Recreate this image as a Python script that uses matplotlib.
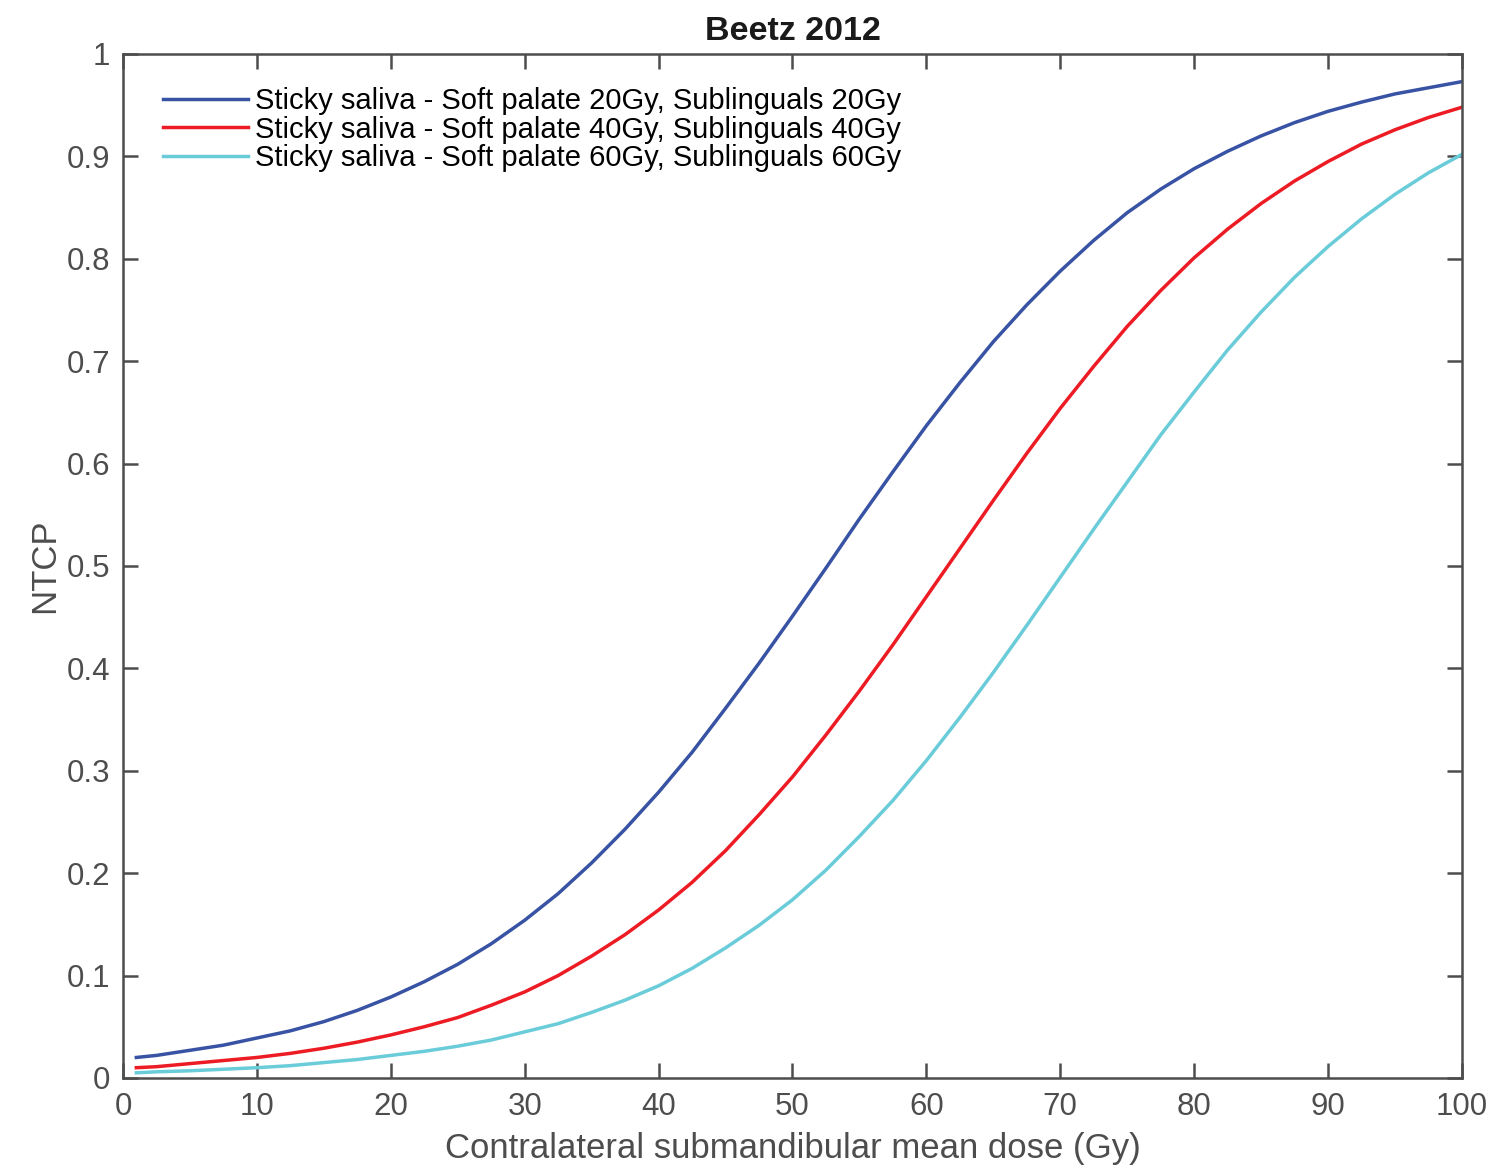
import matplotlib.pyplot as plt

plt.rcParams['font.family'] = ['Liberation Sans', 'DejaVu Sans']

# Data (NTCP vs contralateral submandibular mean dose)
dose = [1, 2.5, 5, 7.5, 10, 12.5, 15, 17.5, 20, 22.5, 25, 27.5, 30, 32.5, 35, 37.5,
        40, 42.5, 45, 47.5, 50, 52.5, 55, 57.5, 60, 62.5, 65, 67.5, 70, 72.5,
        75, 77.5, 80, 82.5, 85, 87.5, 90, 92.5, 95, 97.5, 100]
ntcp_20 = [0.020, 0.022, 0.027, 0.032, 0.039, 0.046, 0.055, 0.066, 0.079, 0.094, 0.111,
           0.131, 0.154, 0.180, 0.210, 0.243, 0.279, 0.318, 0.361, 0.405, 0.451,
           0.498, 0.546, 0.592, 0.637, 0.679, 0.719, 0.755, 0.788, 0.818, 0.845,
           0.868, 0.888, 0.905, 0.920, 0.933, 0.944, 0.953, 0.961, 0.967, 0.973]
ntcp_40 = [0.010, 0.011, 0.014, 0.017, 0.020, 0.024, 0.029, 0.035, 0.042, 0.050, 0.059,
           0.071, 0.084, 0.100, 0.119, 0.140, 0.164, 0.191, 0.222, 0.257, 0.294,
           0.335, 0.378, 0.423, 0.470, 0.517, 0.564, 0.610, 0.654, 0.695, 0.734,
           0.769, 0.801, 0.829, 0.854, 0.876, 0.895, 0.912, 0.926, 0.938, 0.948]
ntcp_60 = [0.005, 0.006, 0.007, 0.0085, 0.010, 0.012, 0.015, 0.018, 0.022, 0.026, 0.031,
           0.037, 0.045, 0.053, 0.064, 0.076, 0.090, 0.107, 0.127, 0.149, 0.174,
           0.203, 0.236, 0.271, 0.310, 0.352, 0.396, 0.442, 0.489, 0.536, 0.582,
           0.628, 0.670, 0.711, 0.748, 0.782, 0.812, 0.839, 0.863, 0.884, 0.902]
labels = ['Sticky saliva - Soft palate 20Gy, Sublinguals 20Gy',
          'Sticky saliva - Soft palate 40Gy, Sublinguals 40Gy',
          'Sticky saliva - Soft palate 60Gy, Sublinguals 60Gy']
colors = ['#3953a4', '#ed1c24', '#6bccd9']

axis_grey = '#4d4d4d'

fig = plt.figure(figsize=(14.94, 11.68), dpi=100)
ax = fig.add_axes([0.0823, 0.0771, 0.8963, 0.8767])

for y, lab, c in zip([ntcp_20, ntcp_40, ntcp_60], labels, colors):
    ax.plot(dose, y, color=c, linewidth=2.5, label=lab)

ax.set_xlim(0, 100)
ax.set_ylim(0, 1)
ax.set_xticks(range(0, 101, 10))
ax.set_yticks([i / 10 for i in range(11)])
ax.set_yticklabels(['0', '0.1', '0.2', '0.3', '0.4', '0.5', '0.6', '0.7', '0.8', '0.9', '1'])

# MATLAB-like box with inward ticks on all sides
for s in ax.spines.values():
    s.set_color(axis_grey)
    s.set_linewidth(1.8)
ax.tick_params(direction='in', length=11, width=1.8, color=axis_grey,
               labelcolor=axis_grey, labelsize=22.5, top=True, right=True)
ax.tick_params(axis='x', pad=10)
ax.tick_params(axis='y', pad=9)

ax.set_xlabel('Contralateral submandibular mean dose (Gy)', fontsize=25,
              color=axis_grey, labelpad=7)
ax.set_ylabel('NTCP', fontsize=25, color=axis_grey, labelpad=4)
ax.set_title('Beetz 2012', fontsize=24.5, fontweight='bold', color='#1a1a1a', pad=10)

ax.legend(loc='upper left', bbox_to_anchor=(0.030, 0.968), frameon=False,
          fontsize=21, handlelength=2.9, handletextpad=0.25, labelspacing=0.03,
          borderaxespad=0, borderpad=0)

fig.savefig('out.png', dpi=100)
